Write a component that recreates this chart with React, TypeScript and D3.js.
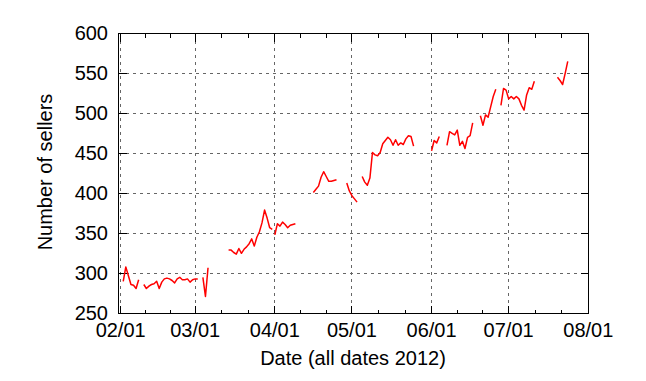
import React from 'react';
import * as d3 from 'd3';

// X axis ticks (month starts) and Y axis ticks
const X_TICKS = ['2012-02-01', '2012-03-01', '2012-04-01', '2012-05-01', '2012-06-01', '2012-07-01', '2012-08-01'];
const Y_TICKS = [250, 300, 350, 400, 450, 500, 550, 600];

// Daily values; each segment is a run of consecutive days starting at the given day offset from 2012-02-01
const SEGMENT_START_DAYS = [1, 9, 32, 42, 60, 75, 88, 94, 121, 127, 140, 148, 170];

const segFebA = [290, 308, 297, 286, 285, 281, 292];
const segFebB = [286, 281, 284, 286, 287, 290, 281, 289, 293, 294, 293, 291, 288, 293, 295, 292, 292, 293, 289, 292, 293, 293];
const segMarA = [295, 271, 307];
const segMarB = [329, 329, 326, 324, 331, 325, 330, 333, 337, 343, 334, 345, 352, 363, 379, 369, 357, 355];
const segAprA = [348, 362, 359, 364, 361, 357, 360, 361, 362];
const segAprB = [401, 405, 409, 420, 427, 421, 415, 415, 416, 417];
const segAprC = [413, 403, 397, 393, 389];
const segMay = [421, 414, 410, 419, 451, 448, 447, 451, 462, 466, 470, 467, 460, 467, 460, 463, 461, 468, 472, 471, 459];
const segJunA = [453, 466, 463, 471];
const segJunB = [460, 477, 475, 473, 479, 460, 465, 456, 470, 472, 488];
const segJunC = [497, 485, 498, 495, 508, 521, 530];
const segJul = [510, 531, 529, 518, 521, 518, 521, 518, 510, 504, 523, 532, 530, 540];
const segJulB = [545, 541, 536, 550, 565];

const SEGMENTS = [segFebA, segFebB, segMarA, segMarB, segAprA, segAprB, segAprC, segMay, segJunA, segJunB, segJunC, segJul, segJulB];

const FONT = '"Liberation Sans", Arial, Helvetica, sans-serif';

export default function App() {
  const parse = d3.timeParse('%Y-%m-%d');
  const fmt = d3.timeFormat('%m/%d');
  const base = parse('2012-02-01') as Date;

  const x = d3
    .scaleTime()
    .domain([d3.timeDay.offset(base, -1), parse('2012-08-01') as Date])
    .range([118.1, 588.3]);
  const y = d3.scaleLinear().domain([250, 600]).range([313.3, 33.3]);

  const L = 118.5, R = 588.5, T = 33.5, B = 313.5;
  const crisp = (v: number) => Math.floor(v) + 0.5;

  const majors = X_TICKS.map((s) => parse(s) as Date);
  const minors: Date[] = [];
  for (let i = 0; i < majors.length - 1; i++) {
    const a = majors[i].getTime();
    const b = majors[i + 1].getTime();
    minors.push(new Date(a + (b - a) / 3), new Date(a + (2 * (b - a)) / 3));
  }

  const line = d3
    .line<[Date, number]>()
    .x((d) => x(d[0]))
    .y((d) => y(d[1]));

  const paths = SEGMENTS.map((vals, si) =>
    line(vals.map((v, i) => [d3.timeDay.offset(base, SEGMENT_START_DAYS[si] + i), v] as [Date, number]))
  );

  const majorLen = 8;
  const minorLen = 4;

  return (
    <svg
      width={646}
      height={381}
      style={{ position: 'absolute', left: 0, top: 0, background: '#fff' }}
      fontFamily={FONT}
    >
      <rect x={0} y={0} width={646} height={381} fill="#fff" />
      <g shapeRendering="crispEdges" stroke="#666" strokeWidth={1} strokeDasharray="3,4">
        {majors.map((t, i) => {
          const xx = crisp(x(t));
          return xx > L + 0.5 && xx < R - 0.5 ? <line key={'gx' + i} x1={xx} x2={xx} y1={T} y2={B} /> : null;
        })}
        {Y_TICKS.map((v, i) => {
          const yy = crisp(y(v));
          return yy > T + 0.5 && yy < B - 0.5 ? <line key={'gy' + i} x1={L} x2={R} y1={yy} y2={yy} /> : null;
        })}
      </g>
      <g shapeRendering="crispEdges" stroke="#000" strokeWidth={1}>
        {majors.map((t, i) => {
          const xx = crisp(x(t));
          return (
            <g key={'mx' + i}>
              <line x1={xx} x2={xx} y1={B} y2={B - majorLen} />
              <line x1={xx} x2={xx} y1={T} y2={T + majorLen} />
            </g>
          );
        })}
        {minors.map((t, i) => {
          const xx = crisp(x(t));
          return (
            <g key={'nx' + i}>
              <line x1={xx} x2={xx} y1={B} y2={B - minorLen} />
              <line x1={xx} x2={xx} y1={T} y2={T + minorLen} />
            </g>
          );
        })}
        {Y_TICKS.map((v, i) => {
          const yy = crisp(y(v));
          return (
            <g key={'ty' + i}>
              <line x1={L} x2={L + majorLen} y1={yy} y2={yy} />
              <line x1={R} x2={R - majorLen} y1={yy} y2={yy} />
            </g>
          );
        })}
        <rect x={L} y={T} width={R - L} height={B - T} fill="none" />
      </g>
      <g fill="none" stroke="#ff0000" strokeWidth={1.5} strokeLinejoin="round">
        {paths.map((p, i) => (
          <path key={'p' + i} d={p || ''} />
        ))}
      </g>
      <g fontSize={20} fill="#000">
        {majors.map((t, i) => (
          <text key={'lx' + i} x={x(t)} y={337} textAnchor="middle">
            {fmt(t)}
          </text>
        ))}
        {Y_TICKS.map((v, i) => (
          <text key={'ly' + i} x={108} y={y(v) + 7} textAnchor="end">
            {v}
          </text>
        ))}
        <text x={353} y={365} textAnchor="middle">
          Date (all dates 2012)
        </text>
        <text transform="translate(52,172) rotate(-90)" textAnchor="middle">
          Number of sellers
        </text>
      </g>
    </svg>
  );
}
